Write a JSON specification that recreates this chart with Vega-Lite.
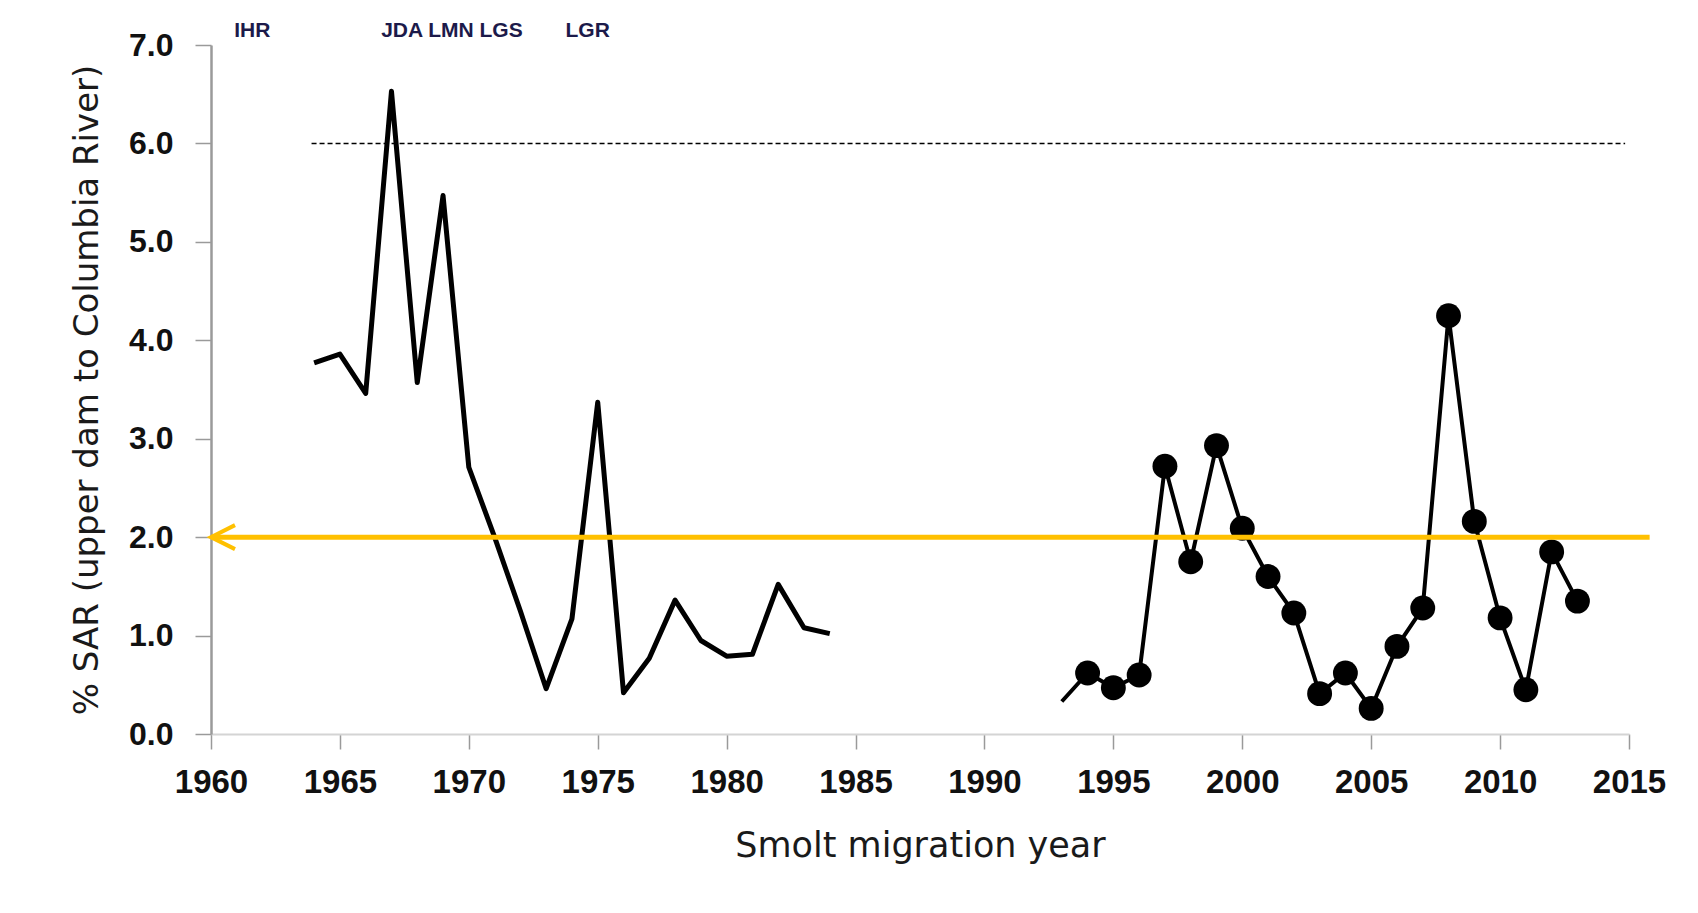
{
  "$schema": "https://vega.github.io/schema/vega-lite/v6.json",
  "width": 1418,
  "height": 689,
  "autosize": "none",
  "padding": {"left": 211, "top": 45, "right": 69, "bottom": 179},
  "background": "white",
  "config": {
    "view": {"stroke": null},
    "axis": {"grid": false}
  },
  "datasets": {
    "sar": [
      {"year": 1964, "sar": 3.77, "period": "1964-1984"},
      {"year": 1965, "sar": 3.86, "period": "1964-1984"},
      {"year": 1966, "sar": 3.46, "period": "1964-1984"},
      {"year": 1967, "sar": 6.53, "period": "1964-1984"},
      {"year": 1968, "sar": 3.57, "period": "1964-1984"},
      {"year": 1969, "sar": 5.47, "period": "1964-1984"},
      {"year": 1970, "sar": 2.71, "period": "1964-1984"},
      {"year": 1971, "sar": 2.0, "period": "1964-1984"},
      {"year": 1972, "sar": 1.25, "period": "1964-1984"},
      {"year": 1973, "sar": 0.46, "period": "1964-1984"},
      {"year": 1974, "sar": 1.17, "period": "1964-1984"},
      {"year": 1975, "sar": 3.37, "period": "1964-1984"},
      {"year": 1976, "sar": 0.42, "period": "1964-1984"},
      {"year": 1977, "sar": 0.77, "period": "1964-1984"},
      {"year": 1978, "sar": 1.36, "period": "1964-1984"},
      {"year": 1979, "sar": 0.95, "period": "1964-1984"},
      {"year": 1980, "sar": 0.79, "period": "1964-1984"},
      {"year": 1981, "sar": 0.81, "period": "1964-1984"},
      {"year": 1982, "sar": 1.52, "period": "1964-1984"},
      {"year": 1983, "sar": 1.08, "period": "1964-1984"},
      {"year": 1984, "sar": 1.02, "period": "1964-1984"},
      {"year": 1993, "sar": 0.33, "period": "1993-2013"},
      {"year": 1994, "sar": 0.62, "period": "1993-2013"},
      {"year": 1995, "sar": 0.47, "period": "1993-2013"},
      {"year": 1996, "sar": 0.6, "period": "1993-2013"},
      {"year": 1997, "sar": 2.72, "period": "1993-2013"},
      {"year": 1998, "sar": 1.75, "period": "1993-2013"},
      {"year": 1999, "sar": 2.93, "period": "1993-2013"},
      {"year": 2000, "sar": 2.09, "period": "1993-2013"},
      {"year": 2001, "sar": 1.6, "period": "1993-2013"},
      {"year": 2002, "sar": 1.23, "period": "1993-2013"},
      {"year": 2003, "sar": 0.41, "period": "1993-2013"},
      {"year": 2004, "sar": 0.62, "period": "1993-2013"},
      {"year": 2005, "sar": 0.26, "period": "1993-2013"},
      {"year": 2006, "sar": 0.89, "period": "1993-2013"},
      {"year": 2007, "sar": 1.28, "period": "1993-2013"},
      {"year": 2008, "sar": 4.25, "period": "1993-2013"},
      {"year": 2009, "sar": 2.16, "period": "1993-2013"},
      {"year": 2010, "sar": 1.18, "period": "1993-2013"},
      {"year": 2011, "sar": 0.45, "period": "1993-2013"},
      {"year": 2012, "sar": 1.85, "period": "1993-2013"},
      {"year": 2013, "sar": 1.35, "period": "1993-2013"}
    ],
    "bounds": [
      {"year": 1963.9, "end": 2014.85, "sar": 6},
      {"year": 1963.9, "end": 2014.85, "sar": 2}
    ],
    "target": [
      {"year": 1960, "end": 2015.8, "sar": 2}
    ],
    "dams": [
      {"label": "IHR", "year": 1960.9, "sar": 7.14},
      {"label": "JDA LMN LGS", "year": 1966.6, "sar": 7.14},
      {"label": "LGR", "year": 1973.75, "sar": 7.14}
    ]
  },
  "encoding": {
    "x": {
      "field": "year", "type": "quantitative",
      "scale": {"domain": [1960, 2015], "nice": false, "zero": false},
      "axis": {
        "title": "Smolt migration year",
        "values": [1960, 1965, 1970, 1975, 1980, 1985, 1990, 1995, 2000, 2005, 2010, 2015],
        "format": "d",
        "labelFlush": false,
        "labelOverlap": false,
        "domainColor": "#d4d4d4", "domainWidth": 2,
        "tickColor": "#9a9a9a", "tickWidth": 1.5, "tickSize": 15,
        "labelFont": "Liberation Sans", "labelFontWeight": "bold", "labelFontSize": 33,
        "labelColor": "#111111", "labelPadding": 17,
        "titleFont": "DejaVu Sans", "titleFontWeight": "normal", "titleFontSize": 35,
        "titleColor": "#1a1a1a", "titlePadding": 29
      }
    },
    "y": {
      "field": "sar", "type": "quantitative",
      "scale": {"domain": [0, 7], "nice": false},
      "axis": {
        "title": "% SAR (upper dam to Columbia River)",
        "values": [0, 1, 2, 3, 4, 5, 6, 7],
        "format": ".1f",
        "labelFlush": false,
        "domainColor": "#9a9a9a", "domainWidth": 2.5,
        "tickColor": "#9a9a9a", "tickWidth": 1.5, "tickSize": 16,
        "labelFont": "Liberation Sans", "labelFontWeight": "bold", "labelFontSize": 32,
        "labelColor": "#111111", "labelPadding": 22,
        "titleFont": "DejaVu Sans", "titleFontWeight": "normal", "titleFontSize": 34,
        "titleColor": "#1a1a1a", "titlePadding": 24
      }
    }
  },
  "layer": [
    {
      "data": {"name": "sar"},
      "transform": [{"filter": "datum.period === '1964-1984'"}],
      "mark": {"type": "line", "color": "black", "strokeWidth": 5, "strokeJoin": "round"}
    },
    {
      "data": {"name": "sar"},
      "transform": [{"filter": "datum.period === '1993-2013'"}],
      "mark": {"type": "line", "color": "black", "strokeWidth": 4, "strokeJoin": "round"}
    },
    {
      "data": {"name": "sar"},
      "transform": [{"filter": "datum.period === '1993-2013' && datum.year >= 1994"}],
      "mark": {"type": "point", "filled": true, "color": "black", "size": 620, "opacity": 1}
    },
    {
      "data": {"name": "bounds"},
      "mark": {"type": "rule", "color": "black", "strokeWidth": 1.5, "strokeDash": [5, 3]},
      "encoding": {"x2": {"field": "end"}}
    },
    {
      "data": {"name": "target"},
      "mark": {"type": "rule", "color": "#FFC000", "strokeWidth": 5},
      "encoding": {"x2": {"field": "end"}}
    },
    {
      "data": {"name": "target"},
      "mark": {"type": "point", "shape": "M2,-1L0,0L2,1", "filled": false, "stroke": "#FFC000", "strokeWidth": 4, "size": 576, "opacity": 1, "strokeJoin": "miter"}
    },
    {
      "data": {"name": "dams"},
      "mark": {"type": "text", "align": "left", "baseline": "middle", "font": "Liberation Sans", "fontWeight": "bold", "fontSize": 21, "color": "#1c1a4a"},
      "encoding": {"text": {"field": "label"}}
    }
  ]
}
